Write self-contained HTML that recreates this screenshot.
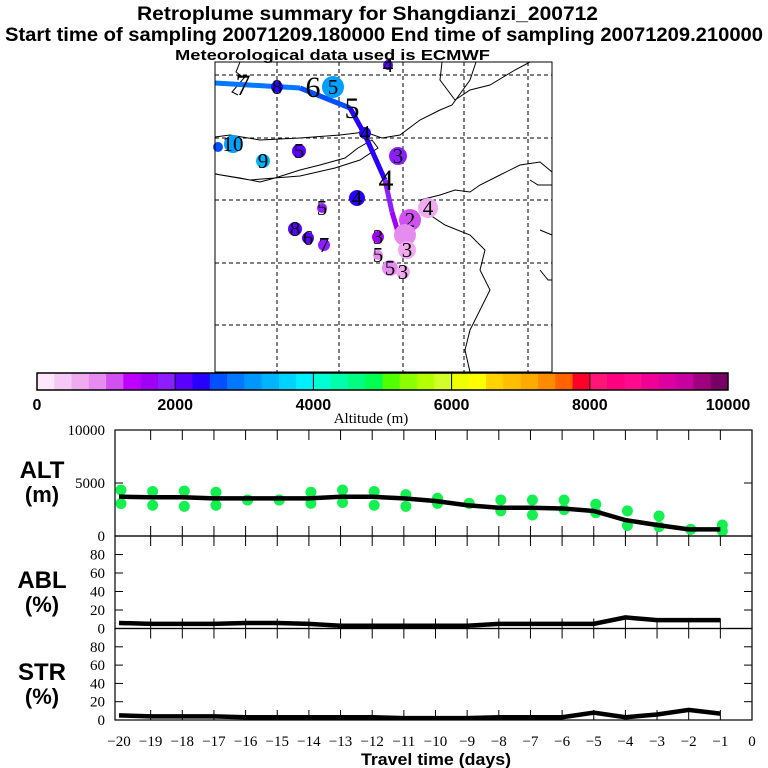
<!DOCTYPE html>
<html><head><meta charset="utf-8"><style>
html,body{margin:0;padding:0;background:#fff;}
svg{display:block;}
</style></head><body>
<svg id="fig" width="768" height="768" viewBox="0 0 768 768" xmlns="http://www.w3.org/2000/svg" font-family="Liberation Sans, sans-serif">
<g font-weight="bold" fill="#000">
<text x="137" y="20" font-size="19" textLength="461" lengthAdjust="spacingAndGlyphs">Retroplume summary for Shangdianzi_200712</text>
<text x="5" y="41" font-size="19" textLength="758" lengthAdjust="spacingAndGlyphs">Start time of sampling 20071209.180000     End time of sampling 20071209.210000</text>
</g>
<g id="map"></g>
<text x="175" y="60" font-size="15" font-weight="bold" textLength="315" lengthAdjust="spacingAndGlyphs">Meteorological data used is ECMWF</text>
<g id="cbar"></g>
<g id="panels"></g>
</svg>
<script>
const NS='http://www.w3.org/2000/svg';
function mk(parent,tag,attrs,txt){const e=document.createElementNS(NS,tag);for(const k in attrs)e.setAttribute(k,attrs[k]);if(txt!==undefined)e.textContent=txt;parent.appendChild(e);return e;}

// ---------- data ----------
const days=[-20,-19,-18,-17,-16,-15,-14,-13,-12,-11,-10,-9,-8,-7,-6,-5,-4,-3,-2,-1];
const altMean=[3710,3650,3650,3550,3550,3550,3550,3700,3700,3550,3300,2900,2670,2670,2600,2360,1500,1040,630,630];
const altHigh=[4340,4200,4250,4130,3400,3400,4130,4340,4200,3900,3560,3080,3400,3400,3400,2990,2370,1890,630,1040];
const altLow=[3050,2900,2800,2900,3400,3400,3080,3160,2900,2800,3080,3080,2370,1980,2490,2200,990,880,630,470];
const ablVals=[6,5,5,5,6,6,5,3,3,3,3,3,5,5,5,5,12,9,9,9];
const strVals=[5,4,4,4,3,3,3,3,3,2,2,2,3,3,3,8,3,6,11,7];
const cbarTicks=[0,2000,4000,6000,8000,10000];
const cbarColors=['#ffe6fa','#f5c8f5','#f0aaf0','#e68cf0','#d250f0','#c000ff','#a000f5','#8c1eff',
'#5a00ff','#2800ff','#0050ff','#0078ff','#0096ff','#00b4ff','#00d2ff','#00f0ff',
'#00ffd2','#00ffaa','#00ff80','#00ff50','#50ff00','#8cff00','#b4ff00','#d2ff28',
'#f0ff00','#ffff00','#ffd200','#ffbe00','#ffaa00','#ff8c00','#ff6400','#ff0028',
'#ff1478','#ff0080','#ff0a8c','#f00096','#dc00a0','#c800a0','#a0007d','#780064'];
const pctTicks=[0,20,40,60,80];
const altTicks=[0,5000,10000];

// ---------- map ----------
const map=document.getElementById('map');
const MX0=215,MX1=552,MY0=62,MY1=372;
const coast=[[[240,62],[236,72],[244,78],[232,92],[238,95]],
[[215,174],[250,180],[300,176],[335,168],[360,160],[378,148],[372,140],[358,148],[345,158],[320,165],[300,170],[275,178],[260,182],[240,178],[215,174]],
[[215,137],[230,135],[260,140],[300,138],[340,135],[365,132],[382,138],[400,135],[420,120],[440,110],[452,105],[470,80],[476,62]],
[[442,62],[440,80],[455,100],[470,90],[490,85],[515,70],[530,62]],
[[420,200],[440,195],[455,190],[470,192],[480,185],[500,175],[520,165],[540,162],[552,172]],
[[420,200],[430,215],[445,225],[470,235],[485,250],[480,270],[490,290],[470,330],[465,350],[470,372]],
[[530,180],[538,185],[552,185]],[[540,230],[552,235]],[[540,270],[548,280],[552,280]]];
coast.forEach((c,i)=>{const p=mk(map,'polyline',{points:c.map(q=>q.join(',')).join(' '),fill:'none',stroke:'#000','stroke-width':1});
});
[277,339,403,464,528].forEach(x=>{const l=mk(map,'line',{x1:x,y1:MY0,x2:x,y2:MY1,stroke:'#000','stroke-dasharray':'4,3','stroke-width':1});});
[75,138,200,263,325].forEach(y=>{const l=mk(map,'line',{x1:MX0,y1:y,x2:MX1,y2:y,stroke:'#000','stroke-dasharray':'4,3','stroke-width':1});});
const traj=[[215,83,'#0a9cff'],[300,88,'#0078ff'],[350,108,'#0050ff'],[365,135,'#2800ff'],[385,180,'#2800ff'],[392,212,'#8c1eff'],[398,232,'#a000f5']];
for(let i=0;i<traj.length-1;i++){const l=mk(map,'line',{x1:traj[i][0],y1:traj[i][1],x2:traj[i+1][0],y2:traj[i+1][1],stroke:traj[i+1][2],'stroke-width':5});
}
const mdots=[[388,65,'#5a00ff',5,'4'],[277,87,'#2800ff',6,'8'],[333,87,'#00a0ff',11,'5'],[365,133,'#2800ff',6,'4'],[233,144,'#00a0ff',9,'10'],[218,147,'#0050ff',5,''],
[263,161,'#00b4ff',7,'9'],[299,151,'#5a00ff',7,'5'],[398,156,'#8c1eff',9,'3'],[357,198,'#2800ff',8,'4'],[322,208,'#8c1eff',5,'5'],
[295,229,'#5a00ff',7,'8'],[308,238,'#5a00ff',6,'6'],[324,245,'#8c1eff',6,'7'],[378,237,'#a000f5',6,'3'],[428,208,'#f0aaf0',10,'4'],
[410,220,'#d250f0',11,'2'],[405,235,'#e68cf0',11,''],[407,250,'#f0aaf0',9,'3'],[378,255,'#e68cf0',5,'5'],[390,268,'#e68cf0',8,'5'],[403,272,'#f0aaf0',7,'3']];
mdots.forEach(d=>{const c=mk(map,'circle',{cx:d[0],cy:d[1],r:d[3],fill:d[2]});
if(d[4]){const t=mk(map,'text',{x:d[0],y:d[1]+7,'font-size':21,'font-family':'Liberation Serif, serif','text-anchor':'middle',fill:'#000'},d[4]);}});
[[243,95,'7'],[313,97,'6'],[352,118,'5'],[386,190,'4']].forEach(d=>{const t=mk(map,'text',{x:d[0],y:d[1],'font-size':30,'font-family':'Liberation Serif, serif','text-anchor':'middle',fill:'#000'},d[2]);});
const mb=mk(map,'rect',{x:MX0,y:MY0,width:MX1-MX0,height:MY1-MY0,fill:'none',stroke:'#000','stroke-width':1});


// ---------- colorbar ----------
const cb=document.getElementById('cbar');
const CX0=37,CX1=728,CY0=373,CY1=390;
const cw=(CX1-CX0)/cbarColors.length;
cbarColors.forEach((c,i)=>{const r=mk(cb,'rect',{x:CX0+i*cw,y:CY0,width:cw+0.5,height:CY1-CY0,fill:c});});
const cbx=v=>CX0+v/10000*(CX1-CX0);
cbarTicks.forEach(v=>{const x=cbx(v);const l=mk(cb,'line',{x1:x,y1:CY0,x2:x,y2:CY1,stroke:'#000','stroke-width':1});
const t=mk(cb,'text',{x:x,y:410,'font-size':16,'font-weight':'bold','text-anchor':'middle'},String(v));});
const cr=mk(cb,'rect',{x:CX0,y:CY0,width:CX1-CX0,height:CY1-CY0,fill:'none',stroke:'#000','stroke-width':1.5});
const ct=mk(cb,'text',{x:371,y:423,'font-size':15,'font-family':'Liberation Serif, serif','text-anchor':'middle'},'Altitude (m)');

// ---------- panels ----------
const pg=document.getElementById('panels');
const PX0=115,PX1=752;
const xs=d=>752+d*31.65;
function panel(name,top,bot,maxV,ticks,tickFmt,label1,label2,labY){
  const g=mk(pg,'g',{});
  const ys=v=>bot-(v/maxV)*(bot-top);
  const r=mk(g,'rect',{x:PX0,y:top,width:PX1-PX0,height:bot-top,fill:'none',stroke:'#000','stroke-width':1.2});
  for(let d=-19;d<=-1;d++){const x=xs(d);
    const a=mk(g,'line',{x1:x,y1:top,x2:x,y2:top+10,stroke:'#000'});
    const b=mk(g,'line',{x1:x,y1:bot,x2:x,y2:bot-10,stroke:'#000'});}
  ticks.forEach(v=>{const y=ys(v);
    const a=mk(g,'line',{x1:PX0,y1:y,x2:PX0+8,y2:y,stroke:'#000'});
    const b=mk(g,'line',{x1:PX1,y1:y,x2:PX1-8,y2:y,stroke:'#000'});
    const t=mk(g,'text',{x:PX0-10,y:y+5,'font-size':15,'font-family':'Liberation Serif, serif','text-anchor':'end'},tickFmt(v));});
  const l1=mk(g,'text',{x:42,y:labY,'font-size':24,'font-weight':'bold','text-anchor':'middle'},label1);
  const l2=mk(g,'text',{x:42,y:labY+24,'font-size':22,'font-weight':'bold','text-anchor':'middle'},label2);
  return {g,ys};
}
const alt=panel('alt',430,536,10000,altTicks,v=>String(v),'ALT','(m)',478);
days.forEach((d,i)=>{[altHigh[i],altLow[i]].forEach(v=>{const c=mk(alt.g,'circle',{cx:xs(d)+2,cy:alt.ys(v),r:5.5,fill:'#14f050'});});});
function line(p,vals,name){const pts=days.map((d,i)=>xs(d)+','+p.ys(vals[i])).join(' ');
  const l=mk(p.g,'polyline',{points:pts,fill:'none',stroke:'#000','stroke-width':4.5});}
line(alt,altMean,'altitude-mean-line');
const abl=panel('abl',536,628.5,100,pctTicks,v=>String(v),'ABL','(%)',588);
line(abl,ablVals,'abl-line');
const str=panel('str',628.5,720,100,pctTicks,v=>String(v),'STR','(%)',680);
line(str,strVals,'str-line');
for(let d=-20;d<=0;d++){const t=mk(pg,'text',{x:xs(d),y:746,'font-size':15,'font-family':'Liberation Serif, serif','text-anchor':'middle'},d===0?'0':'\u2212'+(-d));
}
const xt=mk(pg,'text',{x:436,y:765,'font-size':17,'font-weight':'bold','text-anchor':'middle',textLength:150,lengthAdjust:'spacingAndGlyphs'},'Travel time (days)');

</script>
</body></html>
